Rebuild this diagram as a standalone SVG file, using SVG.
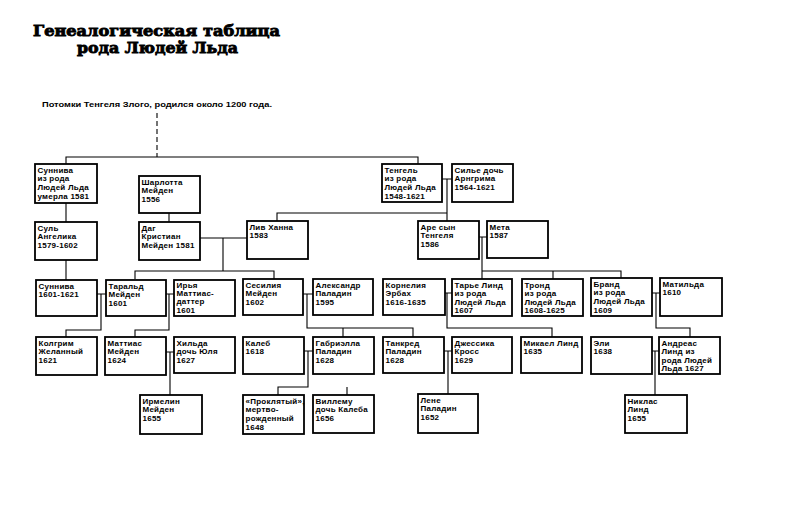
<svg xmlns="http://www.w3.org/2000/svg" width="800" height="525" viewBox="0 0 800 525">
<style>
.b{fill:#fff;stroke:#000;stroke-width:1.8}
.t{font-family:"Liberation Sans",Arial,sans-serif;font-weight:bold;font-size:8px;letter-spacing:0.25px;fill:#000}
.c{fill:none;stroke:#000;stroke-width:1.1}
.ttl{font-family:"DejaVu Serif",serif;font-weight:900;font-size:15px;fill:#000;stroke:#000;stroke-width:0.9}
</style>
<rect width="800" height="525" fill="#fff"/>
<text class="ttl" x="33" y="35.5" textLength="247" lengthAdjust="spacingAndGlyphs">Генеалогическая таблица</text>
<text class="ttl" x="77" y="52.5" textLength="161" lengthAdjust="spacingAndGlyphs">рода Людей Льда</text>
<text class="t" x="42" y="106.5" style="font-size:7.5px;letter-spacing:0" textLength="230" lengthAdjust="spacingAndGlyphs">Потомки Тенгеля Злого, родился около 1200 года.</text>
<g id="connectors">
<path class="c" d="M157 113V157" stroke-dasharray="5,3"/>
<path class="c" d="M66 164V157H418V164"/>
<path class="c" d="M66 203V222M66 260V280M169 213V222"/>
<path class="c" d="M200 238H247M223 238V271M135 279V271H274V279"/>
<path class="c" d="M442 179H452M447 179V221M277 221V213H447"/>
<path class="c" d="M479 237H487M482 237V279M482 271H621V278M553 271V279"/>
<path class="c" d="M97 294H106M101 294V330H66V337"/>
<path class="c" d="M166 294H174M169 294V330H135V337"/>
<path class="c" d="M303 294H313M307 294V328H413V337M343 328V337"/>
<path class="c" d="M445 293H452M447 293V328H552V337"/>
<path class="c" d="M652 293H660M656 293V328H690V337"/>
<path class="c" d="M166 352H174M170 352V395"/>
<path class="c" d="M304 351H313M308 351V387H278V395M347 387V395"/>
<path class="c" d="M444 351H452M448 351V394"/>
<path class="c" d="M652 351H659M655 351V395"/>
</g>
<g id="sunniva1"><rect class="b" x="35" y="164" width="62" height="39"/><text class="t" x="37.5" y="172.5"><tspan x="37.5">Суннива</tspan><tspan x="37.5" dy="8.7">из рода</tspan><tspan x="37.5" dy="8.7">Людей Льда</tspan><tspan x="37.5" dy="8.7">умерла 1581</tspan></text></g>
<g id="sharlotta"><rect class="b" x="139" y="176" width="61" height="37"/><text class="t" x="141.5" y="184.5"><tspan x="141.5">Шарлотта</tspan><tspan x="141.5" dy="8.7">Мейден</tspan><tspan x="141.5" dy="8.7">1556</tspan></text></g>
<g id="tengel"><rect class="b" x="382" y="164" width="60" height="38"/><text class="t" x="384.5" y="172.5"><tspan x="384.5">Тенгель</tspan><tspan x="384.5" dy="8.7">из рода</tspan><tspan x="384.5" dy="8.7">Людей Льда</tspan><tspan x="384.5" dy="8.7">1548-1621</tspan></text></g>
<g id="silje"><rect class="b" x="452" y="164" width="61" height="38"/><text class="t" x="454.5" y="172.5"><tspan x="454.5">Силье дочь</tspan><tspan x="454.5" dy="8.7">Арнгрима</tspan><tspan x="454.5" dy="8.7">1564-1621</tspan></text></g>
<g id="sul"><rect class="b" x="35" y="222" width="62" height="38"/><text class="t" x="37.5" y="230.5"><tspan x="37.5">Суль</tspan><tspan x="37.5" dy="8.7">Ангелика</tspan><tspan x="37.5" dy="8.7">1579-1602</tspan></text></g>
<g id="dag"><rect class="b" x="139" y="222" width="61" height="38"/><text class="t" x="141.5" y="230.5"><tspan x="141.5">Даг</tspan><tspan x="141.5" dy="8.7">Кристиан</tspan><tspan x="141.5" dy="8.7">Мейден 1581</tspan></text></g>
<g id="liv"><rect class="b" x="247" y="221" width="61" height="38"/><text class="t" x="249.5" y="229.5"><tspan x="249.5">Лив Ханна</tspan><tspan x="249.5" dy="8.7">1583</tspan></text></g>
<g id="are"><rect class="b" x="418" y="221" width="61" height="38"/><text class="t" x="420.5" y="229.5"><tspan x="420.5">Аре сын</tspan><tspan x="420.5" dy="8.7">Тенгеля</tspan><tspan x="420.5" dy="8.7">1586</tspan></text></g>
<g id="meta"><rect class="b" x="487" y="221" width="61" height="37"/><text class="t" x="489.5" y="229.5"><tspan x="489.5">Мета</tspan><tspan x="489.5" dy="8.7">1587</tspan></text></g>
<g id="sunniva2"><rect class="b" x="36" y="280" width="61" height="36"/><text class="t" x="38.5" y="288.5"><tspan x="38.5">Суннива</tspan><tspan x="38.5" dy="8.7">1601-1621</tspan></text></g>
<g id="tarald"><rect class="b" x="106" y="280" width="60" height="36"/><text class="t" x="108.5" y="288.5"><tspan x="108.5">Таральд</tspan><tspan x="108.5" dy="8.7">Мейден</tspan><tspan x="108.5" dy="8.7">1601</tspan></text></g>
<g id="irja"><rect class="b" x="174" y="280" width="61" height="36"/><text class="t" x="176.5" y="287.5"><tspan x="176.5">Ирья</tspan><tspan x="176.5" dy="8.4">Маттиас-</tspan><tspan x="176.5" dy="8.4">даттер</tspan><tspan x="176.5" dy="8.4">1601</tspan></text></g>
<g id="sesilia"><rect class="b" x="243" y="279" width="60" height="36"/><text class="t" x="245.5" y="287.5"><tspan x="245.5">Сесилия</tspan><tspan x="245.5" dy="8.7">Мейден</tspan><tspan x="245.5" dy="8.7">1602</tspan></text></g>
<g id="aleksandr"><rect class="b" x="313" y="279" width="60" height="36"/><text class="t" x="315.5" y="287.5"><tspan x="315.5">Александр</tspan><tspan x="315.5" dy="8.7">Паладин</tspan><tspan x="315.5" dy="8.7">1595</tspan></text></g>
<g id="kornelia"><rect class="b" x="383" y="279" width="62" height="36"/><text class="t" x="385.5" y="287.5"><tspan x="385.5">Корнелия</tspan><tspan x="385.5" dy="8.7">Эрбах</tspan><tspan x="385.5" dy="8.7">1616-1635</tspan></text></g>
<g id="tarje"><rect class="b" x="452" y="279" width="60" height="37"/><text class="t" x="454.5" y="287.5"><tspan x="454.5">Тарье Линд</tspan><tspan x="454.5" dy="8.5">из рода</tspan><tspan x="454.5" dy="8.5">Людей Льда</tspan><tspan x="454.5" dy="8.5">1607</tspan></text></g>
<g id="trond"><rect class="b" x="522" y="279" width="61" height="37"/><text class="t" x="524.5" y="287.5"><tspan x="524.5">Тронд</tspan><tspan x="524.5" dy="8.5">из рода</tspan><tspan x="524.5" dy="8.5">Людей Льда</tspan><tspan x="524.5" dy="8.5">1608-1625</tspan></text></g>
<g id="brand"><rect class="b" x="591" y="278" width="61" height="38"/><text class="t" x="593.5" y="286.5"><tspan x="593.5">Бранд</tspan><tspan x="593.5" dy="8.7">из рода</tspan><tspan x="593.5" dy="8.7">Людей Льда</tspan><tspan x="593.5" dy="8.7">1609</tspan></text></g>
<g id="matilda"><rect class="b" x="660" y="278" width="62" height="38"/><text class="t" x="662.5" y="286.5"><tspan x="662.5">Матильда</tspan><tspan x="662.5" dy="8.7">1610</tspan></text></g>
<g id="kolgrim"><rect class="b" x="36" y="337" width="61" height="38"/><text class="t" x="38.5" y="345.5"><tspan x="38.5">Колгрим</tspan><tspan x="38.5" dy="8.7">Желанный</tspan><tspan x="38.5" dy="8.7">1621</tspan></text></g>
<g id="mattias"><rect class="b" x="105" y="337" width="61" height="38"/><text class="t" x="107.5" y="345.5"><tspan x="107.5">Маттиас</tspan><tspan x="107.5" dy="8.7">Мейден</tspan><tspan x="107.5" dy="8.7">1624</tspan></text></g>
<g id="hilda"><rect class="b" x="174" y="337" width="61" height="36"/><text class="t" x="176.5" y="345.5"><tspan x="176.5">Хильда</tspan><tspan x="176.5" dy="8.7">дочь Юля</tspan><tspan x="176.5" dy="8.7">1627</tspan></text></g>
<g id="kaleb"><rect class="b" x="243" y="337" width="61" height="37"/><text class="t" x="245.5" y="345.5"><tspan x="245.5">Калеб</tspan><tspan x="245.5" dy="8.7">1618</tspan></text></g>
<g id="gabriella"><rect class="b" x="313" y="337" width="61" height="37"/><text class="t" x="315.5" y="345.5"><tspan x="315.5">Габриэлла</tspan><tspan x="315.5" dy="8.7">Паладин</tspan><tspan x="315.5" dy="8.7">1628</tspan></text></g>
<g id="tankred"><rect class="b" x="383" y="337" width="61" height="36"/><text class="t" x="385.5" y="345.5"><tspan x="385.5">Танкред</tspan><tspan x="385.5" dy="8.7">Паладин</tspan><tspan x="385.5" dy="8.7">1628</tspan></text></g>
<g id="dzhessika"><rect class="b" x="452" y="337" width="60" height="36"/><text class="t" x="454.5" y="345.5"><tspan x="454.5">Джессика</tspan><tspan x="454.5" dy="8.7">Кросс</tspan><tspan x="454.5" dy="8.7">1629</tspan></text></g>
<g id="mikael"><rect class="b" x="521" y="337" width="61" height="36"/><text class="t" x="523.5" y="345.5"><tspan x="523.5">Микаел Линд</tspan><tspan x="523.5" dy="8.7">1635</tspan></text></g>
<g id="eli"><rect class="b" x="591" y="337" width="61" height="37"/><text class="t" x="593.5" y="345.5"><tspan x="593.5">Эли</tspan><tspan x="593.5" dy="8.7">1638</tspan></text></g>
<g id="andreas"><rect class="b" x="659" y="337" width="61" height="37"/><text class="t" x="661.5" y="345.5"><tspan x="661.5">Андреас</tspan><tspan x="661.5" dy="8.6">Линд из</tspan><tspan x="661.5" dy="8.6">рода Людей</tspan><tspan x="661.5" dy="8.6">Льда 1627</tspan></text></g>
<g id="irmelin"><rect class="b" x="140" y="395" width="62" height="39"/><text class="t" x="142.5" y="403.5"><tspan x="142.5">Ирмелин</tspan><tspan x="142.5" dy="8.7">Мейден</tspan><tspan x="142.5" dy="8.7">1655</tspan></text></g>
<g id="prokliatyi"><rect class="b" x="243" y="395" width="61" height="39"/><text class="t" x="245.5" y="403.5"><tspan x="245.5">«Проклятый»,</tspan><tspan x="245.5" dy="8.7">мертво-</tspan><tspan x="245.5" dy="8.7">рожденный</tspan><tspan x="245.5" dy="8.7">1648</tspan></text></g>
<g id="villemu"><rect class="b" x="313" y="395" width="61" height="38"/><text class="t" x="315.5" y="403.5"><tspan x="315.5">Виллему</tspan><tspan x="315.5" dy="8.7">дочь Калеба</tspan><tspan x="315.5" dy="8.7">1656</tspan></text></g>
<g id="lene"><rect class="b" x="418" y="394" width="60" height="39"/><text class="t" x="420.5" y="402.5"><tspan x="420.5">Лене</tspan><tspan x="420.5" dy="8.7">Паладин</tspan><tspan x="420.5" dy="8.7">1652</tspan></text></g>
<g id="niklas"><rect class="b" x="625" y="395" width="62" height="38"/><text class="t" x="627.5" y="403.5"><tspan x="627.5">Никлас</tspan><tspan x="627.5" dy="8.7">Линд</tspan><tspan x="627.5" dy="8.7">1655</tspan></text></g>
</svg>
